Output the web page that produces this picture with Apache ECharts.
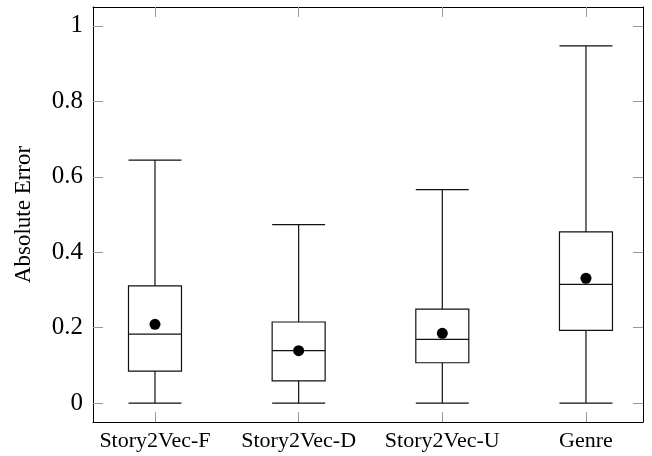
<!DOCTYPE html>
<html>
<head>
<meta charset="utf-8">
<script src="https://cdn.jsdelivr.net/npm/echarts@6/dist/echarts.min.js"></script>
<style>
  html, body { margin: 0; padding: 0; background: #fff; }
  #main { width: 652px; height: 456px; }
</style>
</head>
<body>
<div id="main"></div>
<script>
// categories and box statistics
const categories = ['Story2Vec-F', 'Story2Vec-D', 'Story2Vec-U', 'Genre']
const whiskerLow = [0, 0, 0, 0]
const q1 = [0.085, 0.059, 0.107, 0.193]
const median = [0.183, 0.139, 0.169, 0.315]
const q3 = [0.311, 0.215, 0.249, 0.454]
const whiskerHigh = [0.644, 0.473, 0.566, 0.947]
const means = [0.209, 0.139, 0.185, 0.331]
const yTicks = [0, 0.2, 0.4, 0.6, 0.8, 1]
const xTicks = [1, 2, 3, 4]

const font = "'Liberation Serif', 'Times New Roman', serif"
const tickColor = '#9a9a9a'

// boxes sit at x = 1..4 on a value axis so the padding can be uneven like the source
const boxData = categories.map((c, i) => [i + 1, whiskerLow[i], q1[i], median[i], q3[i], whiskerHigh[i]])
const meanData = categories.map((c, i) => [i + 1, means[i]])

const chart = echarts.init(document.getElementById('main'))
chart.setOption({
  animation: false,
  grid: { left: 93, right: 9, top: 7, bottom: 34 },
  xAxis: [{
    type: 'value',
    min: 0.5685,
    max: 4.397,
    position: 'bottom',
    splitLine: { show: false },
    axisLine: { show: true, onZero: false, lineStyle: { color: '#000', width: 1 } },
    axisTick: { show: true, inside: true, length: 10, customValues: xTicks, lineStyle: { color: tickColor } },
    axisLabel: {
      customValues: xTicks,
      formatter: v => categories[Math.round(v) - 1] || '',
      color: '#000', fontFamily: font, fontSize: 22, margin: 8
    }
  }, {
    type: 'value',
    min: 0.5685,
    max: 4.397,
    position: 'top',
    splitLine: { show: false },
    axisLine: { show: true, onZero: false, lineStyle: { color: '#000', width: 1 } },
    axisTick: { show: true, inside: true, length: 10, customValues: xTicks, lineStyle: { color: tickColor } },
    axisLabel: { show: false }
  }],
  yAxis: [{
    type: 'value',
    min: -0.05,
    max: 1.05,
    position: 'left',
    name: 'Absolute Error',
    nameLocation: 'middle',
    nameGap: 58,
    nameTextStyle: { color: '#000', fontFamily: font, fontSize: 23 },
    splitLine: { show: false },
    axisLine: { show: true, onZero: false, lineStyle: { color: '#000', width: 1 } },
    axisTick: { show: true, inside: true, length: 10, customValues: yTicks, lineStyle: { color: tickColor } },
    axisLabel: {
      customValues: yTicks,
      formatter: v => String(Math.round(v * 10) / 10),
      color: '#000', fontFamily: font, fontSize: 25, margin: 10
    }
  }, {
    type: 'value',
    min: -0.05,
    max: 1.05,
    position: 'right',
    splitLine: { show: false },
    axisLine: { show: true, onZero: false, lineStyle: { color: '#000', width: 1 } },
    axisTick: { show: true, inside: true, length: 10, customValues: yTicks, lineStyle: { color: tickColor } },
    axisLabel: { show: false }
  }],
  series: [{
    name: 'box',
    type: 'boxplot',
    xAxisIndex: 0,
    yAxisIndex: 0,
    layout: 'horizontal',
    boxWidth: [53, 53],
    itemStyle: { color: '#fff', borderColor: '#111', borderWidth: 1.2 },
    emphasis: { disabled: true },
    data: boxData
  }, {
    name: 'mean',
    type: 'scatter',
    xAxisIndex: 0,
    yAxisIndex: 0,
    symbol: 'circle',
    symbolSize: 11,
    itemStyle: { color: '#000', opacity: 1 },
    emphasis: { disabled: true },
    z: 5,
    data: meanData
  }]
})
</script>
</body>
</html>
